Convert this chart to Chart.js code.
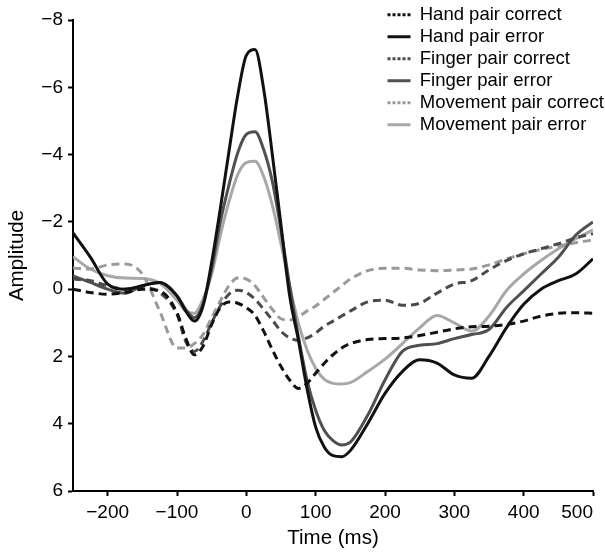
<!DOCTYPE html>
<html>
<head>
<meta charset="utf-8">
<script src="https://cdn.jsdelivr.net/npm/chart.js@4.4.1/dist/chart.umd.min.js"></script>
<style>
    body { margin: 0; background: #fff; }
    canvas { display: block; }
</style>
</head>
<body>
<canvas id="myChart" width="605" height="552"></canvas>
<script>
// time axis (ms), finer around the error negativity
const times = [-250, -225, -200, -175, -150, -125, -100, -87.5, -75, -62.5, -50, -37.5, -25, -12.5,
    0, 12.5, 25, 37.5, 50, 62.5, 75, 87.5, 100, 112.5, 125, 137.5, 150,
    175, 200, 225, 250, 275, 300, 325, 350, 375, 400, 425, 450, 475, 500];

const handCorrect = [0.0, 0.1, 0.15, 0.1, 0.0, 0.05, 0.7, 1.45, 1.95, 1.7, 1.05, 0.55, 0.38, 0.42,
    0.55, 0.78, 1.25, 1.8, 2.3, 2.7, 2.95, 2.8, 2.5, 2.2, 1.95, 1.75, 1.62,
    1.5, 1.47, 1.45, 1.38, 1.28, 1.18, 1.12, 1.1, 1.05, 0.95, 0.8, 0.72, 0.7, 0.72];
const handError = [-1.67, -0.95, -0.15, 0.0, -0.1, -0.2, 0.2, 0.65, 0.95, 0.5, -0.8, -2.4, -4.1, -5.75,
    -6.95, -7.12, -5.95, -4.0, -1.9, 0.2, 1.5, 2.95, 4.1, 4.7, 4.95, 4.98, 4.8,
    4.0, 3.1, 2.45, 2.1, 2.2, 2.55, 2.65, 2.0, 1.15, 0.45, 0.0, -0.25, -0.45, -0.9];
const fingerCorrect = [-0.3, -0.25, -0.1, 0.0, -0.05, 0.1, 0.75, 1.55, 1.85, 1.55, 1.0, 0.5, 0.15, 0.03,
    0.1, 0.3, 0.6, 0.92, 1.25, 1.45, 1.52, 1.45, 1.3, 1.1, 0.95, 0.8, 0.65,
    0.38, 0.33, 0.48, 0.42, 0.12, -0.15, -0.25, -0.57, -0.85, -1.05, -1.2, -1.35, -1.52, -1.65];
const fingerError = [-0.39, -0.2, 0.0, 0.12, -0.1, -0.2, 0.2, 0.6, 0.85, 0.45, -0.6, -2.0, -3.1, -4.05,
    -4.6, -4.68, -4.15, -3.2, -1.76, -0.1, 1.4, 2.7, 3.6, 4.2, 4.5, 4.63, 4.55,
    3.75, 2.7, 1.85, 1.67, 1.62, 1.47, 1.35, 1.2, 0.55, 0.05, -0.45, -0.95, -1.6, -2.0];
const moveCorrect = [-0.62, -0.6, -0.72, -0.75, -0.45, 0.65, 1.75, 1.75, 1.62, 1.35, 0.85, 0.35, -0.1, -0.33,
    -0.3, -0.1, 0.25, 0.6, 0.88, 0.92, 0.82, 0.65, 0.5, 0.3, 0.1, -0.1, -0.3,
    -0.55, -0.62, -0.62, -0.57, -0.55, -0.57, -0.6, -0.72, -0.9, -1.05, -1.18, -1.28, -1.38, -1.46];
const moveError = [-0.96, -0.6, -0.4, -0.33, -0.32, -0.18, 0.33, 0.65, 0.72, 0.3, -0.45, -1.6, -2.6, -3.4,
    -3.76, -3.8, -3.35, -2.5, -1.35, -0.1, 1.0, 1.8, 2.35, 2.68, 2.8, 2.82, 2.78,
    2.45, 2.08, 1.62, 1.15, 0.78, 1.0, 1.25, 0.8, 0.05, -0.45, -0.85, -1.2, -1.5, -1.76];

const xStart = -250;
const xEnd = 500;
const xTickValues = [-200, -100, 0, 100, 200, 300, 400, 500];
const yTickValues = [-8, -6, -4, -2, 0, 2, 4, 6];

Chart.defaults.font.family = "'Liberation Sans', Arial, Helvetica, sans-serif";
Chart.defaults.color = '#000';

function fmt(v) {
    return v < 0 ? '\u2212' + Math.abs(v) : String(v);
}

function series(label, values, color, dashed) {
    return {
        label: label,
        data: times.map((t, i) => ({x: t, y: values[i]})),
        borderColor: color,
        backgroundColor: color,
        borderWidth: 3,
        borderDash: dashed ? [8, 5] : [],
        pointRadius: 0,
        cubicInterpolationMode: 'monotone',
        fill: false
    };
}

// puts the legend box in the top right corner, over the plot
const legendPlace = {
    id: 'legendPlace',
    afterLayout(chart) {
        Object.assign(chart.legend, {left: 384, top: 2, right: 605, bottom: 160, width: 221, height: 158});
    }
};

const axisTicks = {drawOnChartArea: false, tickLength: 5, tickWidth: 2};

new Chart(document.getElementById('myChart'), {
    type: 'line',
    data: {
        datasets: [
            series('Hand pair correct', handCorrect, '#111111', true),
            series('Hand pair error', handError, '#111111', false),
            series('Finger pair correct', fingerCorrect, '#4a4a4a', true),
            series('Finger pair error', fingerError, '#505050', false),
            series('Movement pair correct', moveCorrect, '#9a9a9a', true),
            series('Movement pair error', moveError, '#a8a8a8', false)
        ]
    },
    options: {
        responsive: false,
        animation: false,
        devicePixelRatio: 1,
        layout: {padding: {top: 20, right: 12, bottom: 0, left: 0}},
        plugins: {
            tooltip: {enabled: false},
            legend: {
                position: 'chartArea',
                align: 'start',
                labels: {
                    usePointStyle: true,
                    pointStyle: 'line',
                    pointStyleWidth: 23,
                    padding: 3.5,
                    color: '#000',
                    font: {size: 18.5},
                    generateLabels: (chart) => {
                        const items = Chart.defaults.plugins.legend.labels.generateLabels(chart);
                        items.forEach(item => {
                            const ds = chart.data.datasets[item.datasetIndex];
                            item.lineDash = ds.borderDash.length ? [3, 2] : [];
                            item.lineWidth = ds.borderWidth;
                        });
                        return items;
                    }
                }
            }
        },
        scales: {
            x: {
                type: 'linear',
                min: xStart,
                max: xEnd,
                afterBuildTicks: (scale) => {
                    scale.ticks = [xStart].concat(xTickValues).map(v => ({value: v}));
                },
                afterFit: (scale) => { scale.height = 61; },
                ticks: {
                    align: 'inner',
                    autoSkip: false,
                    maxRotation: 0,
                    padding: 5,
                    font: {size: 19},
                    callback: (v) => v === xStart ? '' : fmt(v)
                },
                grid: Object.assign({
                    tickColor: (ctx) => ctx.tick && ctx.tick.value === xStart ? 'rgba(0,0,0,0)' : '#000'
                }, axisTicks),
                border: {color: '#000', width: 2},
                title: {display: true, text: 'Time (ms)', font: {size: 20.5}, padding: {top: 0, bottom: 1}}
            },
            y: {
                type: 'linear',
                reverse: true,
                min: -8,
                max: 6,
                afterBuildTicks: (scale) => {
                    scale.ticks = yTickValues.map(v => ({value: v}));
                },
                afterFit: (scale) => { scale.width = 73; },
                ticks: {padding: 5, font: {size: 19}, callback: fmt},
                grid: Object.assign({tickColor: '#000'}, axisTicks),
                border: {color: '#000', width: 2},
                title: {display: true, text: 'Amplitude', font: {size: 20.5}, padding: {top: 5, bottom: 0}}
            }
        }
    },
    plugins: [legendPlace]
});
</script>
</body>
</html>
